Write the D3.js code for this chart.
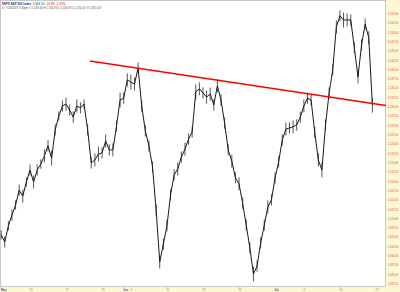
<!DOCTYPE html>
<html><head><meta charset="utf-8">
<script src="https://cdn.jsdelivr.net/npm/d3@7"></script>
<style>html,body{margin:0;padding:0;background:#fff;} svg{display:block;}</style>
</head><body>
<svg id="c" width="400" height="292"></svg>
<script>
// price samples every half trading day, starting 2 sessions before May 10, 2007
const prices = [
1495.7,1493.8,1498.1,1501.0,1503.7,1507.7,1506.1,1509.9,1513.1,1509.9,
1513.1,1514.7,1516.9,1519.6,1516.3,1523.9,1527.6,1530.3,1530.8,1529.2,
1527.3,1530.3,1529.8,1530.8,1523.9,1515.0,1515.8,1517.4,1517.7,1520.9,
1518.5,1518.5,1524.9,1531.9,1532.4,1537.3,1536.7,1536.2,1540.5,1530.3,
1523.6,1519.6,1513.9,1502.4,1488.4,1493.2,1498.1,1506.4,1511.8,1513.4,
1516.6,1518.7,1521.4,1523.3,1534.1,1534.9,1533.8,1532.7,1533.5,1530.6,
1535.7,1531.9,1525.7,1518.5,1515.5,1511.0,1509.4,1504.2,1498.3,1492.2,
1485.2,1487.3,1493.5,1498.3,1503.2,1505.1,1511.0,1515.3,1521.2,1524.1,
1524.4,1524.7,1525.2,1527.3,1530.3,1532.4,1531.9,1523.3,1515.8,1513.1,
1525.2,1533.8,1540.0,1551.5,1554.5,1553.4,1553.4,1553.4,1545.9,1538.1,
1546.7,1552.3,1548.6,1530.5
];
// estimated high-low range (index points) of each half-day sample
const spreads = [
2.5,3,2.5,3,2.5,3,3.5,2.5,3,3.5,
3,2.5,3.5,3,4,3,2.5,3,3.5,3,
3,3.5,3,2.5,3,3,3.5,4,3,3.5,
3,3.5,3,4,3,3.5,4,3.5,3,3,
3,3,3,3,3.5,3,3,3,3,3.5,
3,3.5,3,3,4,3.5,3,3.5,3.5,3,
3.5,3,3,3,3.5,3,3.5,3,3,3,
4,3,3,3,3.5,3,3,3,3,3.5,
3,3.5,3,3,3.5,3,3,3,3.5,4,
3,3,3,3.5,3,4,3.5,3,3,3.5,
3,3,3.5,4
];
const startDay = -2, stepDay = 0.5;

const yTickValues = [1482.5,1485,1487.5,1490,1492.5,1495,1497.5,1500,1502.5,1505,
1507.5,1510,1512.5,1515,1517.5,1520,1522.5,1525,1527.5,1530,1532.5,1535,1537.5,
1540,1542.5,1545,1547.5,1550,1552.5,1555];
const xTickDays = [-2,2,7,12,15,16,21,26,31,36,40,45,50];
const xTickLabels = ["May","14","21","29","Jun","4","11","18","25","Jul","9","16","23"];
const monthLabels = ["May","Jun","Jul"];

const trendDays = [10.32, 51.39];
const trendValues = [1542.4, 1530.45];

const titleParts = [
  {t:"$SPX S&P 500 Index", c:"#1a2a6c", w:"bold"},
  {t:"1,534.10", c:"#222", w:"normal"},
  {t:"-19.98", c:"#e00000", w:"normal"},
  {t:"-1.29%", c:"#e00000", w:"normal"}
];
const subtitle = "D: 7/20/2007   3:30pm   O:1,533.66  H:1,534.94  L:1,530.38  C:1,534.10  V:1,391,047";

const W = 400, H = 292, PW = 386, PH = 287;
const svg = d3.select("#c");

svg.append("rect").attr("x",0).attr("y",0).attr("width",W).attr("height",H).attr("fill","#fcf8d2");
svg.append("rect").attr("x",0.5).attr("y",0.5).attr("width",PW-1).attr("height",PH-1)
  .attr("fill","#fff").attr("stroke","#c8c8c8").attr("stroke-width",1);

const x = d3.scaleLinear().domain([-2.16, 51.39]).range([0, PW]);
const y = d3.scaleLinear().domain([1481.69, 1558.76]).range([PH, 0]);

// y axis labels
const fmt = d3.format(",.2f");
svg.append("g").selectAll("text").data(yTickValues).join("text")
  .attr("x", PW + 1.5).attr("y", d => y(d) + 1)
  .attr("font-family","Liberation Sans, Arial, sans-serif").attr("font-size", 2.8)
  .attr("fill","#e05050").text(d => fmt(d));

// x axis labels
const xg = svg.append("g");
xg.selectAll("line").data(xTickDays).join("line")
  .attr("x1", d => x(d)).attr("x2", d => x(d)).attr("y1", PH).attr("y2", PH + 1.5)
  .attr("stroke","#aab").attr("stroke-width",0.5);
xg.selectAll("text").data(xTickDays).join("text")
  .attr("x", (d,i) => Math.max(1, x(d) - 0.5)).attr("y", PH + 4)
  .attr("font-family","Liberation Sans, Arial, sans-serif").attr("font-size", 2.8)
  .attr("font-weight", (d,i) => monthLabels.includes(xTickLabels[i]) ? "bold" : "normal")
  .attr("fill", (d,i) => monthLabels.includes(xTickLabels[i]) ? "#34508a" : "#8090a8")
  .text((d,i) => xTickLabels[i]);

// price data
const pts = prices.map((v,i) => ({d: startDay + i*stepDay, v, s: spreads[i]}));

// high-low bars
svg.append("g").selectAll("line").data(pts).join("line")
  .attr("x1", p => x(p.d)).attr("x2", p => x(p.d))
  .attr("y1", p => y(p.v + p.s/2)).attr("y2", p => y(p.v - p.s/2))
  .attr("stroke","#2a2a2a").attr("stroke-width",0.8);

const line = d3.line().x(p => x(p.d)).y(p => y(p.v));
svg.append("path").datum(pts).attr("d", line)
  .attr("fill","none").attr("stroke","#1a1a1a").attr("stroke-width",1).attr("stroke-linejoin","miter");

// trend line
svg.append("line")
  .attr("x1", x(trendDays[0])).attr("y1", y(trendValues[0]))
  .attr("x2", x(trendDays[1])).attr("y2", y(trendValues[1]))
  .attr("stroke","#ff0000").attr("stroke-width",1.6);

// header
const t1 = svg.append("text").attr("x",2).attr("y",4.5)
  .attr("font-family","Liberation Sans, Arial, sans-serif").attr("font-size",3);
titleParts.forEach((p,i) => {
  t1.append("tspan").attr("dx", i ? 1.5 : 0).attr("fill", p.c).attr("font-weight", p.w).text(p.t);
});
svg.append("text").attr("x",2).attr("y",8.5)
  .attr("font-family","Liberation Sans, Arial, sans-serif").attr("font-size",2.8)
  .attr("fill","#555").text(subtitle);
</script>
</body></html>
